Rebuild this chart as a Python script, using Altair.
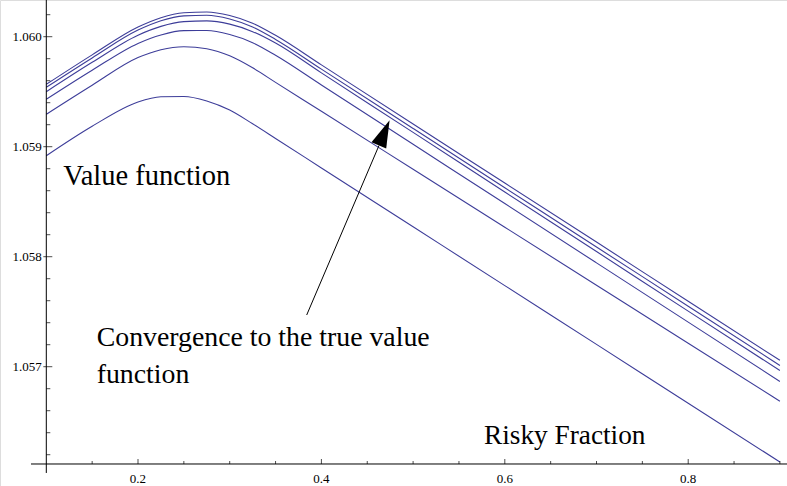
import altair as alt
import pandas as pd

# ---------------- data ----------------
risky_fraction = [0.10, 0.15, 0.20, 0.225, 0.25, 0.275, 0.30, 0.325, 0.35,
                  0.40, 0.50, 0.60, 0.70, 0.80, 0.90]

iter_1 = [1.058918, 1.059186, 1.059407, 1.059454, 1.059457, 1.059416, 1.059333,
          1.059208, 1.059075, 1.058807, 1.058272, 1.057737, 1.057203, 1.056668, 1.056134]
iter_2 = [1.059295, 1.059559, 1.059810, 1.059882, 1.059909, 1.059890, 1.059826,
          1.059717, 1.059585, 1.059322, 1.058795, 1.058268, 1.057741, 1.057214, 1.056686]
iter_3 = [1.059431, 1.059695, 1.059939, 1.060016, 1.060055, 1.060056, 1.060020,
          1.059946, 1.059831, 1.059561, 1.059022, 1.058483, 1.057944, 1.057405, 1.056866]
iter_4 = [1.059500, 1.059767, 1.060014, 1.060094, 1.060137, 1.060144, 1.060114,
          1.060046, 1.059942, 1.059671, 1.059130, 1.058588, 1.058047, 1.057505, 1.056965]
iter_5 = [1.059540, 1.059807, 1.060060, 1.060145, 1.060189, 1.060195, 1.060161,
          1.060088, 1.059975, 1.059705, 1.059166, 1.058627, 1.058088, 1.057550, 1.057011]
iter_6 = [1.059567, 1.059835, 1.060088, 1.060173, 1.060218, 1.060225, 1.060193,
          1.060123, 1.060013, 1.059744, 1.059206, 1.058670, 1.058133, 1.057595, 1.057058]

x_major = [0.2, 0.4, 0.6, 0.8]
x_major_labels = ["0.2", "0.4", "0.6", "0.8"]
x_minor = [0.15, 0.25, 0.30, 0.35, 0.45, 0.50, 0.55, 0.65, 0.70, 0.75, 0.85, 0.90]
y_major = [1.057, 1.058, 1.059, 1.060]
y_major_labels = ["1.057", "1.058", "1.059", "1.060"]
y_minor = [1.0562, 1.0564, 1.0566, 1.0568, 1.0572, 1.0574, 1.0576, 1.0578,
           1.0582, 1.0584, 1.0586, 1.0588, 1.0592, 1.0594, 1.0596, 1.0598, 1.0602]

label_value_function = "Value function"
label_convergence = ["Convergence to the true value", "function"]
label_risky = "Risky Fraction"

# ---------------- layout ----------------
W, H = 787, 486
X_LO, X_HI = 0.04951, 0.90774
Y_LO, Y_HI = 1.0559155, 1.0603336
AXIS_X = 0.1          # where the vertical axis sits
AXIS_Y = 1.0561155    # where the horizontal axis sits
XAXIS_START = 0.0833
YAXIS_END = 1.056034

xs = alt.Scale(domain=[X_LO, X_HI], nice=False, zero=False)
ys = alt.Scale(domain=[Y_LO, Y_HI], nice=False, zero=False)

LINE_COLOR = "#3d3d99"
FONT = "Liberation Serif"

rows = []
for name, vals in [("1", iter_1), ("2", iter_2), ("3", iter_3),
                   ("4", iter_4), ("5", iter_5), ("6", iter_6)]:
    for xv, yv in zip(risky_fraction, vals):
        rows.append({"iter": name, "x": xv, "v": yv})
df = pd.DataFrame(rows)

X = lambda f: alt.X(f, scale=xs, axis=None)
Y = lambda f: alt.Y(f, scale=ys, axis=None)

lines = alt.Chart(df).mark_line(
    interpolate="monotone", strokeWidth=1.1, color=LINE_COLOR
).encode(x=X("x:Q"), y=Y("v:Q"), detail="iter:N")

# axes
x_axis_line = alt.Chart(pd.DataFrame({"x": [XAXIS_START], "x2": [X_HI], "y": [AXIS_Y]})).mark_rule(
    color="black", strokeWidth=1
).encode(x=X("x:Q"), x2="x2:Q", y=Y("y:Q"))

y_axis_line = alt.Chart(pd.DataFrame({"x": [AXIS_X], "y": [Y_HI], "y2": [YAXIS_END]})).mark_rule(
    color="black", strokeWidth=1
).encode(x=X("x:Q"), y=Y("y:Q"), y2="y2:Q")

xmaj_df = pd.DataFrame({"x": x_major, "lab": x_major_labels, "y": [AXIS_Y] * len(x_major)})
xmin_df = pd.DataFrame({"x": x_minor, "y": [AXIS_Y] * len(x_minor)})
ymaj_df = pd.DataFrame({"y": y_major, "lab": y_major_labels, "x": [AXIS_X] * len(y_major)})
ymin_df = pd.DataFrame({"y": y_minor, "x": [AXIS_X] * len(y_minor)})

x_major_ticks = alt.Chart(xmaj_df).mark_tick(
    orient="vertical", size=5, thickness=1, color="black", yOffset=-2.5
).encode(x=X("x:Q"), y=Y("y:Q"))
x_minor_ticks = alt.Chart(xmin_df).mark_tick(
    orient="vertical", size=3, thickness=1, color="black", yOffset=-1.5
).encode(x=X("x:Q"), y=Y("y:Q"))
y_major_ticks = alt.Chart(ymaj_df).mark_tick(
    orient="horizontal", size=9, thickness=1, color="black", xOffset=1.5
).encode(x=X("x:Q"), y=Y("y:Q"))
y_minor_ticks = alt.Chart(ymin_df).mark_tick(
    orient="horizontal", size=4, thickness=1, color="black", xOffset=2
).encode(x=X("x:Q"), y=Y("y:Q"))

x_labels = alt.Chart(xmaj_df).mark_text(
    font=FONT, fontSize=13, align="center", baseline="middle", dy=15, color="black"
).encode(x=X("x:Q"), y=Y("y:Q"), text="lab:N")
y_labels = alt.Chart(ymaj_df).mark_text(
    font=FONT, fontSize=13, align="right", baseline="middle", dx=-4.5, color="black"
).encode(x=X("x:Q"), y=Y("y:Q"), text="lab:N")

# annotations
ann_df = pd.DataFrame({
    "x": [0.11854, 0.15496, 0.15496, 0.57732],
    "y": [1.0586518, 1.0571882, 1.0568491, 1.0562973],
    "t": [label_value_function, label_convergence[0], label_convergence[1], label_risky],
    "s": [28.5, 27.8, 27.8, 27.3],
})
annotations = alt.Chart(ann_df).mark_text(
    font=FONT, align="left", baseline="alphabetic", color="black"
).encode(x=X("x:Q"), y=Y("y:Q"), text="t:N",
         size=alt.Size("s:Q", scale=None, legend=None))

arrow_shaft = alt.Chart(pd.DataFrame({
    "x": [0.38397], "y": [1.05747], "x2": [0.46281], "y2": [1.059011]
})).mark_rule(color="black", strokeWidth=1).encode(
    x=X("x:Q"), y=Y("y:Q"), x2="x2:Q", y2="y2:Q"
)
arrow_head = alt.Chart(pd.DataFrame({"x": [0.4685], "y": [1.0591264]})).mark_point(
    shape="M0,-1L-0.58,1L0.58,1Z", size=756, angle=23, filled=True,
    color="black", opacity=1, strokeWidth=0
).encode(x=X("x:Q"), y=Y("y:Q"))

chart = alt.layer(
    lines, x_axis_line, y_axis_line,
    x_major_ticks, x_minor_ticks, y_major_ticks, y_minor_ticks,
    x_labels, y_labels, annotations, arrow_shaft, arrow_head
).properties(
    width=W, height=H, padding=0, autosize=alt.AutoSizeParams(type="none")
).configure_view(stroke=None).configure(background="white")

chart.save("out.html", embed_options={"renderer": "svg", "actions": False})
